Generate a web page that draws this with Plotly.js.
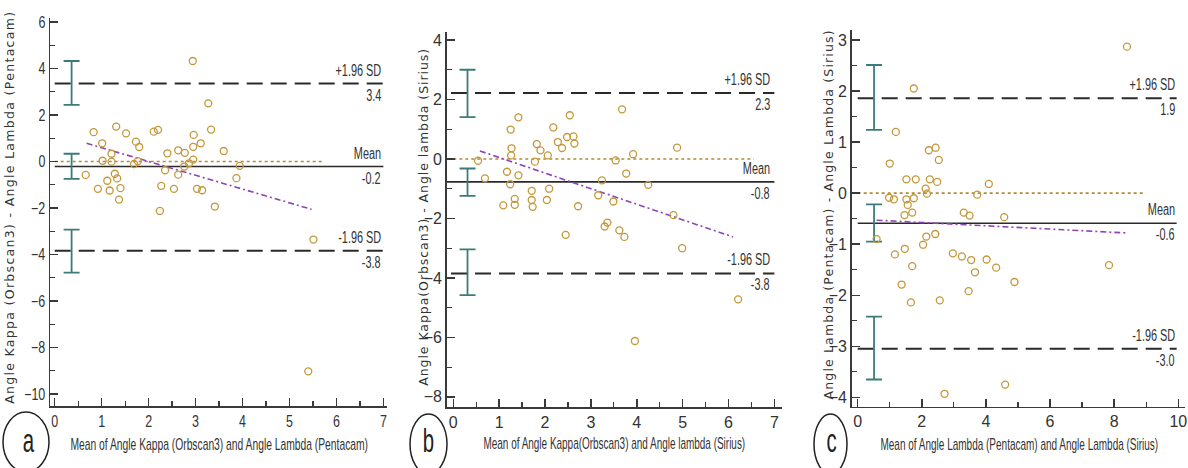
<!DOCTYPE html>
<html><head><meta charset="utf-8">
<script src="https://cdn.plot.ly/plotly-3.0.1.min.js"></script>
<style>html,body{margin:0;padding:0;background:#fff}#chart{width:1188px;height:468px}</style>
</head><body><div id="chart"></div>
<script>
// ---------- Panel a data ----------
const aX = [0.66,0.83,0.92,1.01,1.02,1.12,1.17,1.21,1.21,1.28,1.31,1.33,1.37,1.40,1.52,1.69,1.73,1.77,1.80,2.11,2.20,2.24,2.27,2.35,2.40,2.54,2.63,2.63,2.76,2.77,2.86,2.94,2.95,2.95,2.96,3.03,3.11,3.14,3.27,3.33,3.41,3.60,3.87,3.94,5.40,5.51];
const aY = [-0.58,1.26,-1.18,0.78,0.03,-0.83,-1.25,0.33,-0.01,-0.53,1.50,-0.73,-1.64,-1.15,1.21,-0.11,0.85,0.01,0.62,1.28,1.36,-2.13,-1.05,-0.38,0.35,-1.18,0.48,-0.57,-0.22,0.37,-0.08,4.32,0.08,0.63,1.14,-1.18,0.78,-1.24,2.50,1.37,-1.94,0.45,-0.72,-0.19,-9.03,-3.36];
const aLimits = [3.35, -0.22, -3.84];          // +1.96 SD, mean, -1.96 SD
const aLimitValueText = ['3.4', '-0.2', '-3.8'];
const aCIx = 0.36;
const aCIlow = [2.43, -0.75, -4.78];
const aCIhigh = [4.32, 0.33, -2.93];
const aRegX = [0.68, 5.47];
const aRegY = [0.78, -2.06];

// ---------- Panel b data ----------
const bX = [0.54,0.69,1.09,1.17,1.24,1.25,1.26,1.27,1.34,1.34,1.42,1.42,1.71,1.71,1.73,1.78,1.82,1.90,2.04,2.06,2.09,2.18,2.28,2.37,2.45,2.48,2.54,2.62,2.64,2.72,3.16,3.24,3.30,3.36,3.49,3.54,3.62,3.68,3.73,3.77,3.92,3.96,4.25,4.80,4.88,4.99,6.21];
const bY = [-0.06,-0.65,-1.56,-0.43,-0.85,0.99,0.12,0.36,-1.34,-1.54,1.40,-0.55,-1.07,-1.38,-1.61,-0.09,0.50,0.29,-1.38,0.12,-1.00,1.06,0.57,0.37,-2.55,0.74,1.47,0.76,0.52,-1.59,-1.22,-0.72,-2.27,-2.14,-1.43,-0.05,-2.40,1.67,-2.62,-0.49,0.16,-6.12,-0.87,-1.89,0.38,-3.00,-4.72];
const bLimits = [2.22, -0.77, -3.85];
const bLimitValueText = ['2.3', '-0.8', '-3.8'];
const bCIx = 0.31;
const bCIlow = [1.41, -1.24, -4.58];
const bCIhigh = [3.00, -0.32, -3.04];
const bRegX = [0.58, 6.10];
const bRegY = [0.27, -2.62];

// ---------- Panel c data ----------
const cX = [0.59,0.98,1.00,1.13,1.16,1.19,1.37,1.46,1.47,1.52,1.52,1.56,1.66,1.70,1.70,1.75,1.75,1.81,2.04,2.12,2.14,2.16,2.22,2.25,2.42,2.43,2.48,2.53,2.56,2.71,2.97,3.25,3.31,3.46,3.49,3.54,3.66,3.73,4.02,4.09,4.32,4.57,4.60,4.89,7.84,8.40];
const cY = [-0.90,-0.09,0.58,-0.12,-1.20,1.20,-1.79,-0.43,-1.09,0.27,-0.12,-0.23,-2.14,-0.38,-1.43,2.05,-0.10,0.27,-1.01,0.09,-0.85,-0.01,0.84,0.27,-0.80,0.89,0.22,0.65,-2.10,-3.93,-1.18,-1.24,-0.38,-1.92,-0.44,-1.31,-1.55,-0.03,-1.30,0.18,-1.46,-0.47,-3.75,-1.74,-1.41,2.87];
const cLimits = [1.86, -0.59, -3.05];
const cLimitValueText = ['1.9', '-0.6', '-3.0'];
const cCIx = 0.51;
const cCIlow = [1.24, -0.95, -3.65];
const cCIhigh = [2.51, -0.22, -2.42];
const cRegX = [0.59, 8.40];
const cRegY = [-0.53, -0.78];

// ---------- Text ----------
const limitNames = ['+1.96 SD', 'Mean', '-1.96 SD'];
const yTitles = ['Angle Kappa (Orbscan3) - Angle Lambda (Pentacam)', 'Angle Kappa(Orbscan3) - Angle lambda (Sirius)', 'Angle Lambda (Pentacam) - Angle Lambda (Sirius)'];
const xTitles = ['Mean of Angle Kappa (Orbscan3) and Angle Lambda (Pentacam)', 'Mean of Angle Kappa(Orbscan3) and Angle lambda (Sirius)', 'Mean of Angle Lambda (Pentacam) and Angle Lambda (Sirius)'];
const panelLetters = ['a', 'b', 'c'];

// ---------- Layout geometry ----------
const W = 1188, H = 468;
const SANS = '"Liberation Sans", Arial, sans-serif';
const WIDE = '"DejaVu Sans", Verdana, sans-serif';
const panels = [
  {X:aX, Y:aY, lim:aLimits, limTxt:aLimitValueText, cix:aCIx, cil:aCIlow, cih:aCIhigh, rx:aRegX, ry:aRegY,
   xr:[-0.1,7.07], yr:[-10.52,6.17], xd:[50,386.7], yd:[406,18], xdt:1, xminor:0.5, ydt:2, yminor:1,
   limSpan:[0,7.0], meanSpan:[0,7.0], zeroSpan:[0,5.75], labelX:7.0,
   yTitleX:9, yTitleY:208, yTitleLen:392, xTitleX:219, xTitleY:444, xTitleLen:298, circ:[3,49,412,472], letterX:28},
  {X:bX, Y:bY, lim:bLimits, limTxt:bLimitValueText, cix:bCIx, cil:bCIlow, cih:bCIhigh, rx:bRegX, ry:bRegY,
   xr:[-0.144,7.16], yr:[-8.34,4.27], xd:[446.7,781.7], yd:[407,32], xdt:1, xminor:0.5, ydt:2, yminor:1,
   limSpan:[-0.05,7.0], meanSpan:[-0.15,7.0], zeroSpan:[0,6.55], labelX:6.95,
   yTitleX:423, yTitleY:218, yTitleLen:337, xTitleX:614, xTitleY:443, xTitleLen:262, circ:[410,447,414,474], letterX:428},
  {X:cX, Y:cY, lim:cLimits, limTxt:cLimitValueText, cix:cCIx, cil:cCIlow, cih:cCIhigh, rx:cRegX, ry:cRegY,
   xr:[-0.187,10.21], yr:[-4.183,3.196], xd:[851.7,1185], yd:[406.7,30], xdt:2, xminor:1, ydt:1, yminor:0.5,
   limSpan:[0,9.95], meanSpan:[0,9.95], zeroSpan:[0,8.9], labelX:9.95,
   yTitleX:828, yTitleY:215, yTitleLen:369, xTitleX:1019, xTitleY:444, xTitleLen:278, circ:[814,847,414,474], letterX:831}
];

const traces = [];
const layout = {
  width: W, height: H, margin: {l:0, r:0, t:0, b:0},
  paper_bgcolor: '#fff', plot_bgcolor: 'rgba(0,0,0,0)',
  showlegend: false, annotations: [], shapes: [],
  font: {family: SANS, color: '#333'}
};
const squish = {};   // annotation index -> {len | factor, mode}

const MARK = '#c4973a', TEAL = '#3b7c7a', PURPLE = '#8e44b8', ZERO = '#b38a35', INK = '#2a2a2a';

function addAnn(a, sq) { layout.annotations.push(a); if (sq) squish[layout.annotations.length - 1] = sq; }

panels.forEach((p, i) => {
  const n = i === 0 ? '' : String(i + 1);
  const xa = 'x' + n, ya = 'y' + n;
  const axStyle = {
    showline: true, linecolor: '#3a3a3a', linewidth: 1.5, showgrid: false, zeroline: false,
    ticks: 'inside', ticklen: 8, tickwidth: 1.5, tickcolor: '#3a3a3a',
    tickfont: {family: SANS, size: 16, color: '#333'}, fixedrange: true
  };
  layout['xaxis' + n] = Object.assign({}, axStyle, {
    domain: [p.xd[0] / W, p.xd[1] / W], range: p.xr, anchor: ya,
    tick0: 0, dtick: p.xdt, minor: {ticks: 'inside', ticklen: 5, tickwidth: 1.2, tickcolor: '#3a3a3a', dtick: p.xminor, tick0: 0}
  });
  layout['yaxis' + n] = Object.assign({}, axStyle, {
    domain: [(H - p.yd[0]) / H, (H - p.yd[1]) / H], range: p.yr, anchor: xa,
    tick0: 0, dtick: p.ydt, minor: {ticks: 'inside', ticklen: 5, tickwidth: 1.2, tickcolor: '#3a3a3a', dtick: p.yminor, tick0: 0}
  });

  traces.push({x: p.zeroSpan, y: [0, 0], xaxis: xa, yaxis: ya, mode: 'lines', hoverinfo: 'skip',
    line: {color: ZERO, width: 1.6, dash: '3px,3px'}});
  [0, 2].forEach(k => traces.push({x: p.limSpan, y: [p.lim[k], p.lim[k]], xaxis: xa, yaxis: ya, mode: 'lines', hoverinfo: 'skip',
    line: {color: INK, width: 2, dash: '16px,8px'}}));
  traces.push({x: p.meanSpan, y: [p.lim[1], p.lim[1]], xaxis: xa, yaxis: ya, mode: 'lines', hoverinfo: 'skip',
    line: {color: INK, width: 1.6}});
  traces.push({x: p.rx, y: p.ry, xaxis: xa, yaxis: ya, mode: 'lines', hoverinfo: 'skip',
    line: {color: PURPLE, width: 1.6, dash: '6px,3px,2px,3px'}});
  const mids = p.cil.map((lo, k) => (lo + p.cih[k]) / 2);
  traces.push({x: p.cil.map(() => p.cix), y: mids, xaxis: xa, yaxis: ya, mode: 'markers', hoverinfo: 'skip',
    marker: {size: 1, color: 'rgba(0,0,0,0)'},
    error_y: {type: 'data', symmetric: false, array: p.cih.map((h, k) => h - mids[k]), arrayminus: p.cil.map((l, k) => mids[k] - l),
      color: TEAL, thickness: 1.8, width: 8}});
  traces.push({x: p.X, y: p.Y, xaxis: xa, yaxis: ya, mode: 'markers', type: 'scatter',
    marker: {symbol: 'circle-open', size: 7, color: MARK, line: {width: 1.3, color: MARK}}});

  p.lim.forEach((v, k) => {
    addAnn({xref: xa, yref: ya, x: p.labelX, y: v, text: limitNames[k], showarrow: false, align: 'right',
      xanchor: 'right', yanchor: 'bottom', yshift: 3, font: {family: SANS, size: 16, color: '#333'}}, {factor: 0.68, anchor: 'end'});
    addAnn({xref: xa, yref: ya, x: p.labelX, y: v, text: p.limTxt[k], showarrow: false, align: 'right',
      xanchor: 'right', yanchor: 'top', yshift: -1, font: {family: SANS, size: 16, color: '#333'}}, {factor: 0.68, anchor: 'end'});
  });
  addAnn({xref: 'paper', yref: 'paper', x: p.yTitleX / W, y: (H - p.yTitleY) / H, text: yTitles[i],
    textangle: -90, showarrow: false, xanchor: 'center', yanchor: 'middle', font: {family: WIDE, size: 12.5, color: '#333'}},
    {len: p.yTitleLen, spacing: true});
  addAnn({xref: 'paper', yref: 'paper', x: p.xTitleX / W, y: (H - p.xTitleY) / H, text: xTitles[i],
    showarrow: false, xanchor: 'center', yanchor: 'middle', font: {family: SANS, size: 16, color: '#333'}},
    {len: p.xTitleLen, anchor: 'middle'});
  layout.shapes.push({type: 'circle', xref: 'paper', yref: 'paper',
    x0: p.circ[0] / W, x1: p.circ[1] / W, y0: (H - p.circ[3]) / H, y1: (H - p.circ[2]) / H,
    line: {color: '#222', width: 1.5}});
  addAnn({xref: 'paper', yref: 'paper', x: p.letterX / W, y: (H - 440) / H, text: panelLetters[i],
    showarrow: false, xanchor: 'center', yanchor: 'middle', font: {family: SANS, size: 34, color: '#222'}}, {factor: 0.6, anchor: 'middle'});
});

// horizontally condense a text element (and optional sibling rect) around its anchor point
function squeeze(el, f, anchor, rect) {
  const bb = el.getBBox();
  const ax = anchor === 'end' ? bb.x + bb.width : anchor === 'start' ? bb.x : bb.x + bb.width / 2;
  const tf = ' translate(' + ax.toFixed(2) + ',0) scale(' + f.toFixed(4) + ',1) translate(' + (-ax).toFixed(2) + ',0)';
  el.setAttribute('transform', (el.getAttribute('transform') || '') + tf);
  if (rect) rect.setAttribute('transform', (rect.getAttribute('transform') || '') + tf);
}

Plotly.newPlot('chart', traces, layout, {staticPlot: true, displayModeBar: false}).then(gd => {
  Object.keys(squish).forEach(idx => {
    const g = gd.querySelector('.annotation[data-index="' + idx + '"]');
    if (!g) return;
    const t = g.querySelector('text.annotation-text');
    if (!t) return;
    const s = squish[idx];
    if (s.spacing) {
      t.setAttribute('textLength', s.len.toFixed(1));
      t.setAttribute('lengthAdjust', 'spacing');
      return;
    }
    const natural = t.getBBox().width;
    const f = s.len ? s.len / natural : s.factor;
    squeeze(t, f, s.anchor, g.querySelector('rect.bg'));
  });
  gd.querySelectorAll('.xtick text').forEach(t => squeeze(t, 0.78, 'middle'));
  gd.querySelectorAll('.ytick text').forEach(t => squeeze(t, 0.78, 'end'));
});
</script>
</body></html>
